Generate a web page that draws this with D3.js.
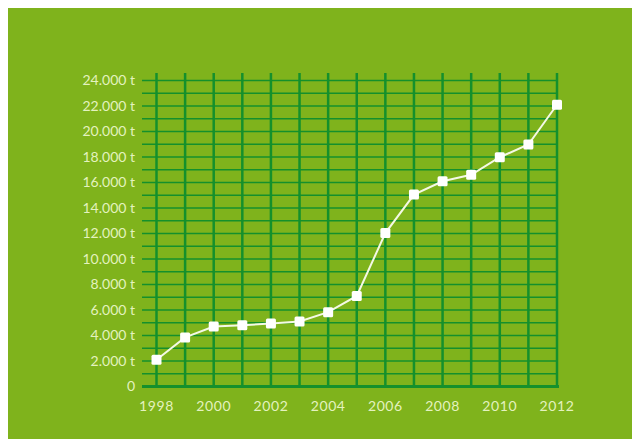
<!DOCTYPE html>
<html>
<head>
<meta charset="utf-8">
<script src="https://cdn.jsdelivr.net/npm/d3@7"></script>
<style>
  html, body { margin: 0; padding: 0; background: #fff; }
  svg text { font-family: Lato, "Open Sans", sans-serif; fill: #e4f2bf; font-size: 14px; }
  svg text.year { letter-spacing: 0.6px; }
</style>
</head>
<body>
<div class="graphic"></div>
<script>
const years = [1998, 1999, 2000, 2001, 2002, 2003, 2004, 2005, 2006, 2007, 2008, 2009, 2010, 2011, 2012];
const tonnes = [2100, 3850, 4700, 4800, 4950, 5100, 5830, 7100, 12030, 15050, 16100, 16600, 17980, 18980, 22100];
const yTicks = [0, 2000, 4000, 6000, 8000, 10000, 12000, 14000, 16000, 18000, 20000, 22000, 24000];
const xTicks = [1998, 2000, 2002, 2004, 2006, 2008, 2010, 2012];

const width = 632, height = 439;
const gridColor = "#14902c";

const svg = d3.select(".graphic").append("svg")
    .attr("width", width)
    .attr("height", height);

// green panel
svg.append("rect")
    .attr("x", 8).attr("y", 8)
    .attr("width", width - 8).attr("height", height - 8)
    .attr("fill", "#7fb31c");

const x = d3.scaleLinear().domain([1998, 2012]).range([156.5, 557]);
const y = d3.scaleLinear().domain([0, 24000]).range([386.5, 80.5]);

// horizontal grid, every 1000 t
svg.append("g").selectAll("line")
    .data(d3.range(1000, 24001, 1000))
    .enter().append("line")
    .attr("x1", 142).attr("x2", 558)
    .attr("y1", d => y(d)).attr("y2", d => y(d))
    .attr("stroke", gridColor)
    .attr("stroke-width", 1.7);

// vertical grid, every year
svg.append("g").selectAll("line")
    .data(years)
    .enter().append("line")
    .attr("x1", d => x(d)).attr("x2", d => x(d))
    .attr("y1", 73).attr("y2", 387)
    .attr("stroke", gridColor)
    .attr("stroke-width", 2.5);

// baseline
svg.append("line")
    .attr("x1", 142).attr("x2", 559)
    .attr("y1", y(0)).attr("y2", y(0))
    .attr("stroke", gridColor)
    .attr("stroke-width", 3);

// y labels
svg.append("g").selectAll("text")
    .data(yTicks)
    .enter().append("text")
    .attr("x", 135)
    .attr("y", d => y(d))
    .attr("dy", "0.35em")
    .attr("text-anchor", "end")
    .text(d => d === 0 ? "0" : d3.format(",")(d).replace(",", ".") + " t");

// x labels
svg.append("g").selectAll("text")
    .data(xTicks)
    .enter().append("text")
    .attr("class", "year")
    .attr("x", d => x(d))
    .attr("y", 411)
    .attr("text-anchor", "middle")
    .text(d => d);

// line
const line = d3.line()
    .x((d, i) => x(years[i]))
    .y(d => y(d));

svg.append("path")
    .datum(tonnes)
    .attr("d", line)
    .attr("fill", "none")
    .attr("stroke", "#f4f9e6")
    .attr("stroke-width", 2);

const sz = 10;
svg.append("g").selectAll("rect")
    .data(tonnes)
    .enter().append("rect")
    .attr("x", (d, i) => x(years[i]) - sz / 2)
    .attr("y", d => y(d) - sz / 2)
    .attr("width", sz).attr("height", sz)
    .attr("rx", 1.5)
    .attr("fill", "#ffffff");
</script>
</body>
</html>
